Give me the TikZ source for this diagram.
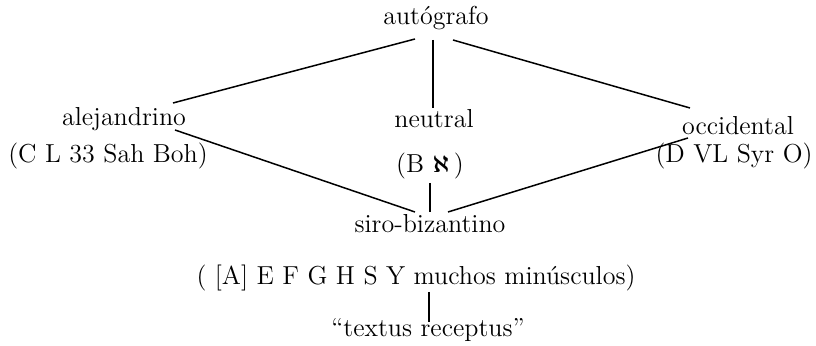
\documentclass[tikz,border=0pt]{standalone}
\begin{document}
\begin{tikzpicture}[x=0.5pt,y=-0.5pt,
  lbl/.style={inner sep=0pt,anchor=base,font=\fontsize{13}{15}\selectfont},
  conn/.style={line width=0.75pt}]
\useasboundingbox (0,0) rectangle (816,346);
\node[lbl] (auto) at (436,25) {autógrafo};
\node[lbl] (alej) at (124,126) {alejandrino};
\node[lbl] (alejw) at (108,163) {(C L 33 Sah Boh)};
\node[lbl] (neut) at (434,128) {neutral};
\node[lbl] (neutw) at (430,173) {(B {\boldmath$\aleph$}\,)};
\node[lbl] (occ) at (738,135) {occidental};
\node[lbl] (occw) at (734,163) {(D VL Syr O)};
\node[lbl] (siro) at (430,233) {siro-bizantino};
\node[lbl] (sirow) at (416,285) {( [A] E F G H S Y muchos minúsculos)};
\node[lbl] (tr) at (428,337) {``textus receptus''};
\coordinate (a1) at (415,39);
\coordinate (a2) at (433,40);
\coordinate (a3) at (453,40);
\coordinate (l1) at (173,103);
\coordinate (l2) at (175,130);
\coordinate (n1) at (433,108);
\coordinate (n2) at (430,183);
\coordinate (o1) at (690,108);
\coordinate (o2) at (688,138);
\coordinate (s1) at (415,212);
\coordinate (s2) at (430,212);
\coordinate (s3) at (448,212);
\coordinate (w1) at (429,292);
\coordinate (t1) at (429,322);
\draw[conn] (a1) -- (l1);
\draw[conn] (a2) -- (n1);
\draw[conn] (a3) -- (o1);
\draw[conn] (l2) -- (s1);
\draw[conn] (o2) -- (s3);
\draw[conn] (n2) -- (s2);
\draw[conn] (w1) -- (t1);
\end{tikzpicture}
\end{document}
